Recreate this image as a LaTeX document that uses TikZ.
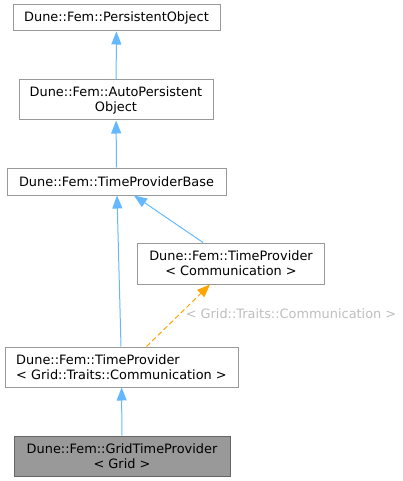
\documentclass[tikz,border=0pt]{standalone}
\usepackage{fontspec}
\setmainfont{DejaVu Sans}
\usetikzlibrary{arrows.meta}
\definecolor{boxline}{HTML}{999999}
\definecolor{hiline}{HTML}{666666}
\definecolor{hifill}{HTML}{999999}
\definecolor{edgeblue}{HTML}{63B8FF}
\definecolor{edgeorange}{HTML}{FFA500}
\definecolor{lblgray}{HTML}{BEBEBE}
\tikzset{
  cls/.style={draw=boxline, line width=1pt, fill=white, inner sep=0pt, font=\fontsize{12.9}{15}\selectfont, align=center},
  hicls/.style={cls, draw=hiline, fill=hifill},
  inh/.style={draw=edgeblue, line width=1pt, -{Triangle[length=13pt,width=10pt,fill=edgeblue]}},
  tmpl/.style={draw=edgeorange, line width=1pt, dash pattern=on 5pt off 3pt, -{Triangle[length=13pt,width=10pt,fill=edgeorange]}},
}
\begin{document}
\begin{tikzpicture}[x=1pt,y=-1pt]
\useasboundingbox (0,0) rectangle (403,481);
\node[cls, minimum width=207pt, minimum height=26pt] (n1) at (116.5,18) {Dune::Fem::PersistentObject};
\node[cls, minimum width=194pt, minimum height=40pt] (n2) at (116,100) {Dune::Fem::AutoPersistent\\Object};
\node[cls, minimum width=219pt, minimum height=27pt] (n3) at (116.5,181.5) {Dune::Fem::TimeProviderBase};
\node[cls, minimum width=187pt, minimum height=41pt] (n4) at (231,263.5) {Dune::Fem::TimeProvider\\< Communication >};
\node[cls, align=left, minimum width=233pt, minimum height=40pt] (n5) at (121.5,367) {Dune::Fem::TimeProvider\\< Grid::Traits::Communication >};
\node[hicls, minimum width=216pt, minimum height=40pt] (n6) at (122,456) {Dune::Fem::GridTimeProvider\\< Grid >};
\draw[inh] (n2) -- (n1);
\draw[inh] (n3) -- (n2);
\draw[inh] ([xshift=-0.5pt]n5.north) -- ([xshift=0.5pt]n3.south);
\draw[inh] ([xshift=-28pt]n4.north) -- ([xshift=17.5pt]n3.south);
\draw[tmpl] ([xshift=25pt]n5.north) -- ([xshift=-21pt]n4.south);
\node[font=\fontsize{12.9}{15}\selectfont, text=lblgray, inner sep=0pt] (lbl) at (291,314) {< Grid::Traits::Communication >};
\draw[inh] (n6) -- (n5);
\end{tikzpicture}
\end{document}
